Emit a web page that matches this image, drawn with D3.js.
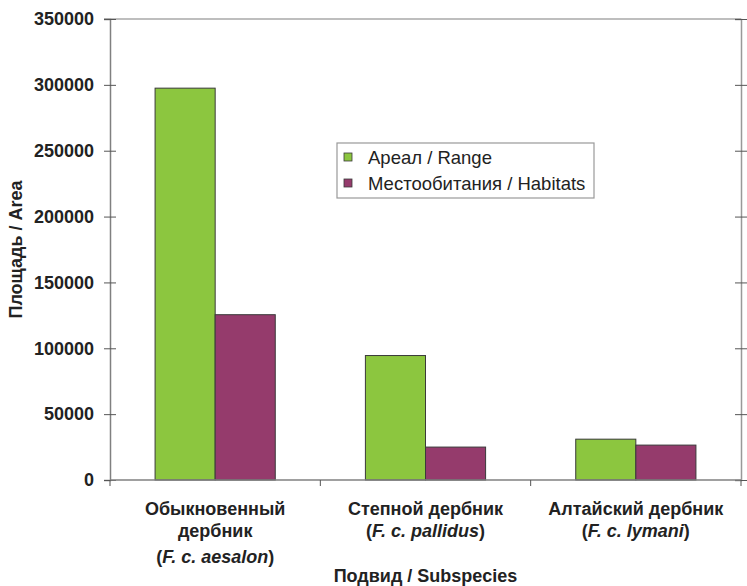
<!DOCTYPE html>
<html>
<head>
<meta charset="utf-8">
<script src="https://cdn.jsdelivr.net/npm/d3@7"></script>
<style>
  body { margin: 0; background: #fff; }
  text { font-family: Arial, "Liberation Sans", sans-serif; }
</style>
</head>
<body>
<svg id="chart"></svg>
<script>
// data
let categories = ["Обыкновенный дербник", "Степной дербник", "Алтайский дербник"];
let latinNames = ["aesalon", "pallidus", "lymani"];
let series = ["Ареал / Range", "Местообитания / Habitats"];
let rangeValues = [297500, 94500, 31000];
let habitatValues = [125500, 25000, 26500];
let yTicks = [0, 50000, 100000, 150000, 200000, 250000, 300000, 350000];

let colors = ["#8cc63f", "#953b6c"];

//margin
let margin = {top: 19, right: 6, bottom: 106, left: 110},
    width = 747 - margin.left - margin.right,
    height = 586 - margin.top - margin.bottom;

let svg = d3.select("#chart")
    .attr("width", 747)
    .attr("height", 586)
    .append("g")
    .attr("transform", "translate(" + margin.left + "," + margin.top + ")");

//scales
let x0 = d3.scaleBand().domain(categories).range([0, width]).padding(0);
let x1 = d3.scaleBand().domain(series).range([0, x0.bandwidth()])
    .paddingInner(0).paddingOuter(0.75);
let y = d3.scaleLinear().domain([0, 350000]).range([height, 0]);

let table = categories.map((c, i) => ({cat: c, vals: [rangeValues[i], habitatValues[i]]}));

//frame top + right
svg.append("line")
    .attr("x1", -6).attr("x2", width)
    .attr("y1", 0).attr("y2", 0)
    .attr("stroke", "#a8a8a8").attr("stroke-width", 1.5);

//right axis with crossing ticks
let right = svg.append("g")
    .attr("transform", "translate(" + width + ",0)")
    .call(d3.axisLeft(y).tickValues(yTicks).tickSize(6).tickFormat(""));
right.select(".domain").attr("stroke", "#999").attr("stroke-width", 1.5);
right.selectAll(".tick line").attr("x1", 6).attr("stroke", "#555");

//bars
let groups = svg.selectAll(".grp")
    .data(table)
    .enter().append("g")
    .attr("transform", d => "translate(" + x0(d.cat) + ",0)");

groups.selectAll("rect")
    .data(d => d.vals.map((v, i) => ({key: series[i], value: v, i: i})))
    .enter().append("rect")
    .attr("x", d => x1(d.key))
    .attr("y", d => y(d.value))
    .attr("width", x1.bandwidth())
    .attr("height", d => height - y(d.value))
    .attr("fill", d => colors[d.i])
    .attr("stroke", "#3a3a3a")
    .attr("stroke-width", 1);

//y axis
let yAxis = svg.append("g")
    .call(d3.axisLeft(y).tickValues(yTicks).tickSize(6).tickPadding(10).tickFormat(d3.format("d")));
yAxis.select(".domain").attr("stroke", "#808080").attr("stroke-width", 1.5);
yAxis.selectAll(".tick line").attr("x2", -6).attr("x1", 6).attr("stroke", "#555");
yAxis.selectAll(".tick text")
    .style("font-size", "18px")
    .style("font-weight", "bold")
    .style("font-family", "Arial, 'Liberation Sans', sans-serif")
    .attr("fill", "#222");

//x axis line + ticks on band boundaries
let xAxis = svg.append("g")
    .attr("transform", "translate(0," + height + ")");
xAxis.append("line")
    .attr("x1", 0).attr("x2", width)
    .attr("stroke", "#808080").attr("stroke-width", 1.5);
xAxis.selectAll(".xt")
    .data(categories.map(c => x0(c)).concat([width]))
    .enter().append("line")
    .attr("x1", d => d).attr("x2", d => d)
    .attr("y1", 0).attr("y2", 6)
    .attr("stroke", "#555");

//category labels
let labels = svg.selectAll(".cat")
    .data(categories)
    .enter().append("text")
    .attr("text-anchor", "middle")
    .style("font-size", "18px")
    .style("font-weight", "bold")
    .attr("fill", "#222");

labels.each(function(d, i) {
    let t = d3.select(this);
    let cx = x0(d) + x0.bandwidth() / 2;
    let lines = i === 0 ? ["Обыкновенный", "дербник"] : [d];
    let yy = height + 35;
    lines.forEach(l => {
        t.append("tspan").attr("x", cx).attr("y", yy).text(l);
        yy += 22;
    });
    if (i === 0) yy += 4;
    let last = t.append("tspan").attr("x", cx).attr("y", yy);
    last.append("tspan").text("(");
    last.append("tspan").style("font-style", "italic").text("F. c. " + latinNames[i]);
    last.append("tspan").text(")");
});

//x axis title
svg.append("text")
    .attr("x", width / 2)
    .attr("y", height + 102)
    .attr("text-anchor", "middle")
    .style("font-size", "18px")
    .style("font-weight", "bold")
    .attr("fill", "#222")
    .text("Подвид / Subspecies");

//y axis title
svg.append("text")
    .attr("transform", "rotate(-90)")
    .attr("x", -height / 2)
    .attr("y", -88)
    .attr("text-anchor", "middle")
    .style("font-size", "18px")
    .style("font-weight", "bold")
    .attr("fill", "#222")
    .text("Площадь / Area");

//legend
let legend = svg.append("g")
    .attr("transform", "translate(" + (337 - margin.left) + "," + (143 - margin.top) + ")");
legend.append("rect")
    .attr("width", 257).attr("height", 55)
    .attr("fill", "#fff")
    .attr("stroke", "#999").attr("stroke-width", 1.2);
series.forEach((s, i) => {
    legend.append("rect")
        .attr("x", 7).attr("y", 10 + i * 26)
        .attr("width", 8).attr("height", 8)
        .attr("fill", colors[i])
        .attr("stroke", "#3a3a3a").attr("stroke-width", 0.8);
    legend.append("text")
        .attr("x", 31).attr("y", 21 + i * 26)
        .style("font-size", "18.5px")
        .attr("fill", "#222")
        .text(s);
});
</script>
</body>
</html>
